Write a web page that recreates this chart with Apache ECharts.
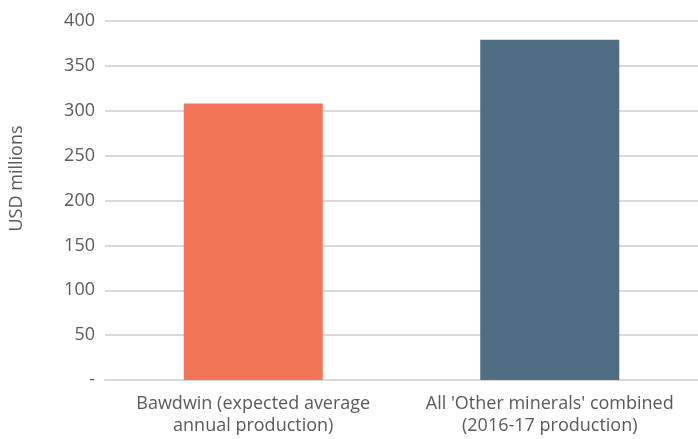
<!DOCTYPE html>
<html>
<head>
<meta charset="utf-8">
<script src="https://cdn.jsdelivr.net/npm/echarts@6/dist/echarts.min.js"></script>
<style>
  html, body { margin: 0; padding: 0; background: #fff; }
  #chart { width: 698px; height: 439px; }
</style>
</head>
<body>
<div id="chart"></div>
<script>
// categories and values
const categories = [
  'Bawdwin (expected average\nannual production)',
  "All 'Other minerals' combined\n(2016-17 production)"
];
const values = [308, 379];
const barColors = ['#F27457', '#4F6E84'];
const yMin = 0;
const yMax = 400;
const yStep = 50;

const chart = echarts.init(document.getElementById('chart'));
chart.setOption({
  animation: false,
  textStyle: { fontFamily: 'Open Sans' },
  grid: { left: 96, right: -5, top: 21, bottom: 59 },
  xAxis: {
    type: 'category',
    data: categories,
    axisTick: { show: false },
    axisLine: { lineStyle: { color: '#d9d9d9', width: 2 } },
    axisLabel: { color: '#595959', fontSize: 18, lineHeight: 22, margin: 13, interval: 0 }
  },
  yAxis: {
    type: 'value',
    min: yMin,
    max: yMax,
    interval: yStep,
    name: 'USD millions',
    nameLocation: 'middle',
    nameGap: 79,
    nameTextStyle: { color: '#595959', fontSize: 18, padding: [0, 0, 0, 44] },
    axisLine: { show: false },
    axisTick: { show: false },
    splitLine: { lineStyle: { color: '#d9d9d9', width: 2 } },
    axisLabel: {
      color: '#595959',
      fontSize: 18,
      margin: 10,
      formatter: v => (v === 0 ? '-' : String(v))
    }
  },
  series: [{
    type: 'bar',
    data: values.map((v, i) => ({ value: v, itemStyle: { color: barColors[i] } })),
    barWidth: 139
  }]
});
</script>
</body>
</html>
